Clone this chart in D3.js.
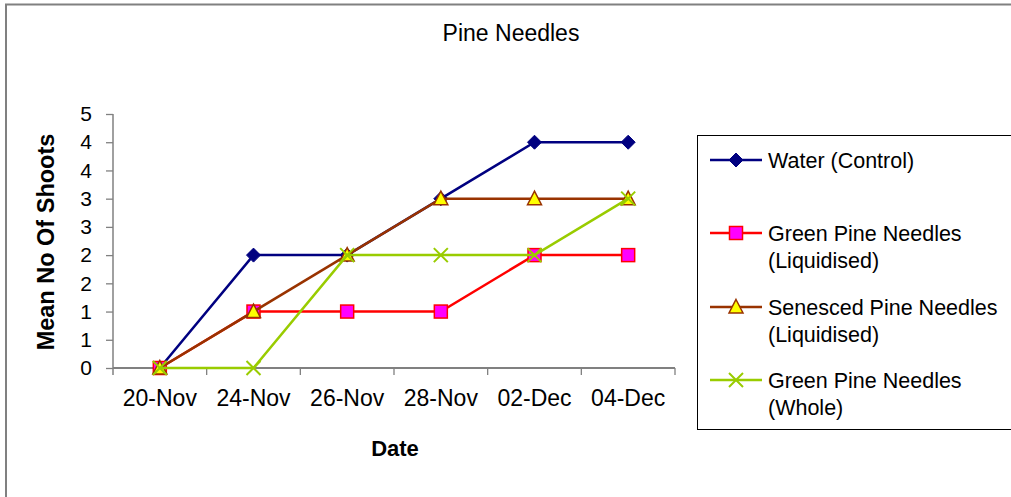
<!DOCTYPE html>
<html>
<head>
<meta charset="utf-8">
<script src="https://cdn.jsdelivr.net/npm/d3@7"></script>
<style>
  body { margin: 0; background: #fff; }
  svg { display: block; font-family: "Liberation Sans", Arial, sans-serif; }
</style>
</head>
<body>
<div id="chart"></div>
<script>
var dates = ["20-Nov", "24-Nov", "26-Nov", "28-Nov", "02-Dec", "04-Dec"];
var water = [0, 2, 2, 3, 4, 4];
var greenLiq = [0, 1, 1, 1, 2, 2];
var senescedLiq = [0, 1, 2, 3, 3, 3];
var greenWhole = [0, 0, 2, 2, 2, 3];
var yTickValues = [0, 0.5, 1, 1.5, 2, 2.5, 3, 3.5, 4, 4.5];
var yTickLabels = ["0", "1", "1", "2", "2", "3", "3", "4", "4", "5"];

var seriesList = [
    {name: ["Water (Control)"], values: water, line: "#000080", marker: "diamond", fill: "#000080", stroke: "#000080"},
    {name: ["Green Pine Needles", "(Liquidised)"], values: greenLiq, line: "#FF0000", marker: "square", fill: "#FF00FF", stroke: "#FF0000"},
    {name: ["Senesced Pine Needles", "(Liquidised)"], values: senescedLiq, line: "#993300", marker: "triangle", fill: "#FFFF00", stroke: "#993300"},
    {name: ["Green Pine Needles", "(Whole)"], values: greenWhole, line: "#99CC00", marker: "x", fill: "none", stroke: "#99CC00"}
];

var W = 1011, H = 497;
var plot = {left: 113, right: 675, top: 114, bottom: 368};
var axisColor = "#808080";

var svg = d3.select("#chart").append("svg").attr("width", W).attr("height", H);

// outer chart frame (only top and left edges are visible)
svg.append("path")
    .attr("d", "M6,497 V4.5 H1011")
    .attr("fill", "none").attr("stroke", "#808080").attr("stroke-width", 2);

var xScale = d3.scaleBand().domain(dates).range([plot.left, plot.right]);
var yScale = d3.scaleLinear().domain([0, 4.5]).range([plot.bottom, plot.top]);
var cx = function(i){ return xScale(dates[i]) + xScale.bandwidth() / 2; };

svg.append("text")
    .attr("x", 511).attr("y", 41)
    .attr("text-anchor", "middle")
    .style("font-size", "23px")
    .text("Pine Needles");

// y axis
var yAxis = d3.axisLeft(yScale)
    .tickValues(yTickValues)
    .tickFormat(function(d, i){ return yTickLabels[i]; })
    .tickSize(7)
    .tickSizeOuter(0)
    .tickPadding(14);
var gy = svg.append("g").attr("transform", "translate(" + plot.left + ",0)").call(yAxis);
gy.select(".domain").remove();
gy.selectAll("line").attr("stroke", axisColor).attr("stroke-width", 1.3);
gy.selectAll("text").style("font-size", "21px").attr("fill", "#000").attr("font-family", null);
svg.append("line")
    .attr("x1", plot.left).attr("x2", plot.left)
    .attr("y1", plot.top).attr("y2", plot.bottom + 7)
    .attr("stroke", axisColor).attr("stroke-width", 1.5);

// x axis: labels centred in categories, ticks on category edges
var gx = svg.append("g").attr("transform", "translate(0," + plot.bottom + ")")
    .call(d3.axisBottom(xScale).tickSize(0).tickPadding(22));
gx.select(".domain").remove();
gx.selectAll("text").style("font-size", "23px").attr("fill", "#000").attr("font-family", null);
svg.append("line")
    .attr("x1", plot.left).attr("x2", plot.right)
    .attr("y1", plot.bottom).attr("y2", plot.bottom)
    .attr("stroke", axisColor).attr("stroke-width", 2);
svg.append("g").selectAll("line")
    .data(dates.slice(1).concat(["end"]))
    .enter().append("line")
    .attr("x1", function(d){ return d == "end" ? plot.right : xScale(d); })
    .attr("x2", function(d){ return d == "end" ? plot.right : xScale(d); })
    .attr("y1", plot.bottom).attr("y2", plot.bottom + 7)
    .attr("stroke", axisColor).attr("stroke-width", 1.3);

svg.append("text")
    .attr("x", 395).attr("y", 456)
    .attr("text-anchor", "middle")
    .style("font-size", "22px").style("font-weight", "bold")
    .text("Date");

svg.append("text")
    .attr("transform", "translate(54,242) rotate(-90)")
    .attr("text-anchor", "middle")
    .style("font-size", "23.5px").style("font-weight", "bold")
    .text("Mean No Of Shoots");

// marker drawing
function drawMarker(g, s, x, y) {
    if (s.marker == "diamond") {
        g.append("path").attr("d", "M" + x + "," + (y - 7) + " L" + (x + 7) + "," + y + " L" + x + "," + (y + 7) + " L" + (x - 7) + "," + y + "Z")
            .attr("fill", s.fill).attr("stroke", s.stroke);
    } else if (s.marker == "square") {
        g.append("rect").attr("x", x - 6.5).attr("y", y - 6.5).attr("width", 13).attr("height", 13)
            .attr("fill", s.fill).attr("stroke", s.stroke).attr("stroke-width", 1.5);
    } else if (s.marker == "triangle") {
        g.append("path").attr("d", "M" + x + "," + (y - 7.5) + " L" + (x + 7) + "," + (y + 6) + " L" + (x - 7) + "," + (y + 6) + "Z")
            .attr("fill", s.fill).attr("stroke", s.stroke).attr("stroke-width", 1.5);
    } else {
        g.append("path").attr("d", "M" + (x - 7) + "," + (y - 7) + " L" + (x + 7) + "," + (y + 7) + " M" + (x + 7) + "," + (y - 7) + " L" + (x - 7) + "," + (y + 7))
            .attr("fill", "none").attr("stroke", s.stroke).attr("stroke-width", 2);
    }
}

var line = d3.line()
    .x(function(d, i){ return cx(i); })
    .y(function(d){ return yScale(d); });

seriesList.forEach(function(s){
    var g = svg.append("g");
    g.append("path").datum(s.values)
        .attr("d", line)
        .attr("fill", "none").attr("stroke", s.line).attr("stroke-width", 2.5);
    s.values.forEach(function(v, i){ drawMarker(g, s, cx(i), yScale(v)); });
});

// legend
var legend = svg.append("g");
legend.append("rect")
    .attr("x", 697.5).attr("y", 135.5).attr("width", 330).attr("height", 294)
    .attr("fill", "#fff").attr("stroke", "#000").attr("stroke-width", 1);
var legendRowY = [160, 233, 307, 380];
seriesList.forEach(function(s, i){
    var y = legendRowY[i];
    legend.append("line").attr("x1", 710).attr("x2", 762).attr("y1", y).attr("y2", y)
        .attr("stroke", s.line).attr("stroke-width", 2.5);
    drawMarker(legend, s, 736, y);
    s.name.forEach(function(t, j){
        legend.append("text")
            .attr("x", 768).attr("y", y + 8 + j * 27)
            .style("font-size", "21.5px")
            .text(t);
    });
});
</script>
</body>
</html>
